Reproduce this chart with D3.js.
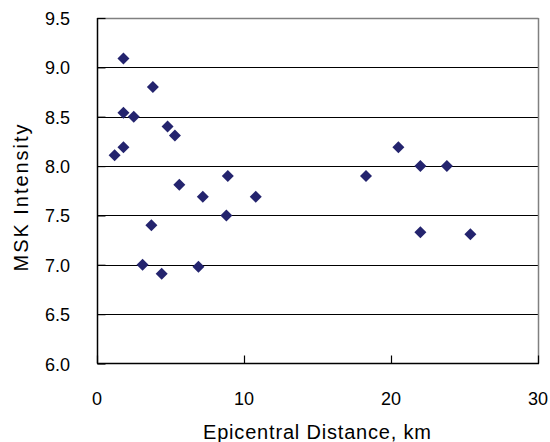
<!DOCTYPE html>
<html>
<head>
<meta charset="utf-8">
<script src="https://cdn.jsdelivr.net/npm/d3@7"></script>
<style>
  html, body { margin: 0; padding: 0; background: #fff; }
  svg { display: block; }
  text { font-family: "Liberation Sans", Arial, sans-serif; fill: #000; }
</style>
</head>
<body>
<svg id="chart" width="550" height="442"></svg>
<script>
// Data
const distanceKm = [1.8, 3.8, 1.8, 2.5, 4.8, 5.3, 1.2, 1.8, 5.6, 7.2, 8.9, 10.8, 8.8, 3.7, 3.1, 4.4, 6.9, 18.3, 20.5, 22.0, 23.8, 22.0, 25.4];
const mskIntensity = [9.09, 8.80, 8.54, 8.50, 8.40, 8.31, 8.11, 8.19, 7.81, 7.69, 7.90, 7.69, 7.50, 7.40, 7.00, 6.91, 6.98, 7.90, 8.19, 8.00, 8.00, 7.33, 7.31];
const xTicks = [0, 10, 20, 30];
const yTicks = [6.0, 6.5, 7.0, 7.5, 8.0, 8.5, 9.0, 9.5];
const xTitle = "Epicentral Distance, km";
const yTitle = "MSK Intensity";

(function () {
const svg = d3.select("#chart");
const pl = 97, pr = 538, pt = 18, pb = 363.5;

const x = d3.scaleLinear().domain([0, 30]).range([pl, pr]);
const y = d3.scaleLinear().domain([6.0, 9.5]).range([pb, pt]);

// gridlines
svg.append("g").selectAll("line")
  .data(yTicks.filter(v => v > 6.0 && v < 9.5))
  .join("line")
  .attr("x1", pl).attr("x2", pr)
  .attr("y1", d => Math.round(y(d)) + 0.5).attr("y2", d => Math.round(y(d)) + 0.5)
  .attr("stroke", "#000").attr("stroke-width", 1);

// plot frame: top/right gray
svg.append("line").attr("x1", pl).attr("x2", pr + 0.5).attr("y1", pt + 0.5).attr("y2", pt + 0.5)
  .attr("stroke", "#808080").attr("stroke-width", 1.5);
svg.append("line").attr("x1", pr + 0.5).attr("x2", pr + 0.5).attr("y1", pt).attr("y2", pb)
  .attr("stroke", "#808080").attr("stroke-width", 1.5);

// Y axis
const yAxis = d3.axisRight(y).tickValues(yTicks).tickSize(8).tickFormat("");
const gy = svg.append("g").attr("transform", `translate(${pl + 0.5},0)`).call(yAxis);
gy.select(".domain").attr("stroke", "#000").attr("stroke-width", 1.5).attr("d", `M0,${pt}V${pb}`);
gy.selectAll(".tick line").attr("stroke", "#000").attr("stroke-width", 1.2);

svg.append("g").selectAll("text")
  .data(yTicks)
  .join("text")
  .attr("x", 70)
  .attr("y", d => y(d) + 7)
  .attr("text-anchor", "end")
  .attr("font-size", 18)
  .text(d => d3.format(".1f")(d));

// X axis
const xAxis = d3.axisTop(x).tickValues(xTicks).tickSize(8).tickFormat("");
const gx = svg.append("g").attr("transform", `translate(0,${pb})`).call(xAxis);
gx.select(".domain").attr("stroke", "#000").attr("stroke-width", 1.5).attr("d", `M${pl},0H${pr + 1}`);
gx.selectAll(".tick line").attr("stroke", "#000").attr("stroke-width", 1.2);

svg.append("g").selectAll("text")
  .data(xTicks)
  .join("text")
  .attr("x", d => x(d))
  .attr("y", 405)
  .attr("text-anchor", "middle")
  .attr("font-size", 18)
  .text(d => d);

// points (diamonds)
const diamond = d3.symbol().type(d3.symbolSquare).size(72);
svg.append("g").selectAll("path")
  .data(distanceKm.map((d, i) => [d, mskIntensity[i]]))
  .join("path")
  .attr("d", diamond)
  .attr("transform", d => `translate(${x(d[0])},${y(d[1])}) rotate(45)`)
  .attr("fill", "#24246e");

// titles
svg.append("text")
  .attr("x", 317).attr("y", 439)
  .attr("text-anchor", "middle")
  .attr("font-size", 20)
  .attr("textLength", 228).attr("lengthAdjust", "spacing")
  .text(xTitle);

svg.append("text")
  .attr("transform", "translate(28,198) rotate(-90)")
  .attr("text-anchor", "middle")
  .attr("font-size", 20)
  .attr("textLength", 147).attr("lengthAdjust", "spacing")
  .text(yTitle);
})();
</script>
</body>
</html>
